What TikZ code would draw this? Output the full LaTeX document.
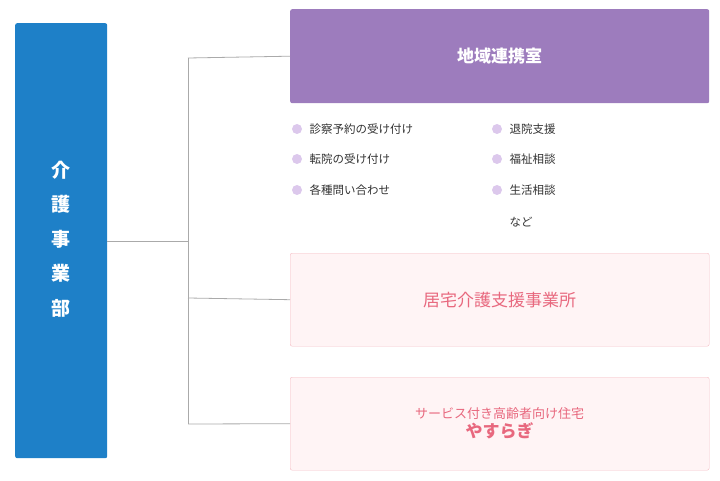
\documentclass[tikz,border=0pt]{standalone}
\usepackage{fontspec}
\setmainfont{Noto Sans CJK JP}
\definecolor{blu}{HTML}{1E80C8}
\definecolor{pur}{HTML}{9D7CBD}
\definecolor{dot}{HTML}{DCC8EC}
\definecolor{pk}{HTML}{E8687E}
\definecolor{pkb}{HTML}{F5BCC4}
\definecolor{pkf}{HTML}{FFF4F5}
\definecolor{ln}{HTML}{AAAAAA}
\definecolor{tx}{HTML}{333333}
\tikzset{x=1pt,y=-1pt,
 pinkbox/.style={draw=pkb,fill=pkf,rounded corners=2pt,minimum width=419pt,minimum height=93pt,anchor=north west,align=center,text=pk},
 bul/.style={circle,fill=dot,inner sep=0pt,minimum size=10pt},
 btx/.style={anchor=west,text=tx,font=\fontsize{11.5}{14}\selectfont},
 conn/.style={draw=ln,line width=0.8pt}}
\begin{document}
\begin{tikzpicture}
\useasboundingbox (0,0) rectangle (720,481);
\node[fill=blu,rounded corners=2pt,minimum width=92pt,minimum height=435pt,anchor=north west] (dept) at (15,23) {};
\node[text=white,align=center,font=\fontsize{19}{34.5}\selectfont\bfseries] at (61,239) {介\\護\\事\\業\\部};
\node[fill=pur,rounded corners=2pt,minimum width=419pt,minimum height=94pt,anchor=north west,text=white,font=\fontsize{17}{20}\selectfont\bfseries] (chiiki) at (290,9) {地域連携室};
\node[pinkbox,font=\fontsize{17}{20}\selectfont] (kyotaku) at (290,253) {居宅介護支援事業所};
\node[pinkbox] (yasuragi) at (290,377) {{\fontsize{13}{16}\selectfont サービス付き高齢者向け住宅}\\[2pt]{\fontsize{17}{20}\selectfont\bfseries やすらぎ}};
\coordinate (j) at (188,241);
\draw[conn] (dept.east |- j) -- (j);
\draw[conn] (188,58) -- (188,424);
\draw[conn] (188,58) -- (chiiki.west);
\draw[conn] (188,298) -- (kyotaku.west);
\draw[conn] (188,424) -- (yasuragi.west);
\foreach \y/\t [count=\i] in {129/診察予約の受け付け,159/転院の受け付け,190/各種問い合わせ}{
 \node[bul] (a\i) at (297,\y) {}; \node[btx] at (306,\y) {\t};}
\foreach \y/\t [count=\i] in {129/退院支援,159/福祉相談,190/生活相談}{
 \node[bul] (b\i) at (497,\y) {}; \node[btx] at (506,\y) {\t};}
\node[btx] (nado) at (506,222) {など};
\end{tikzpicture}
\end{document}
